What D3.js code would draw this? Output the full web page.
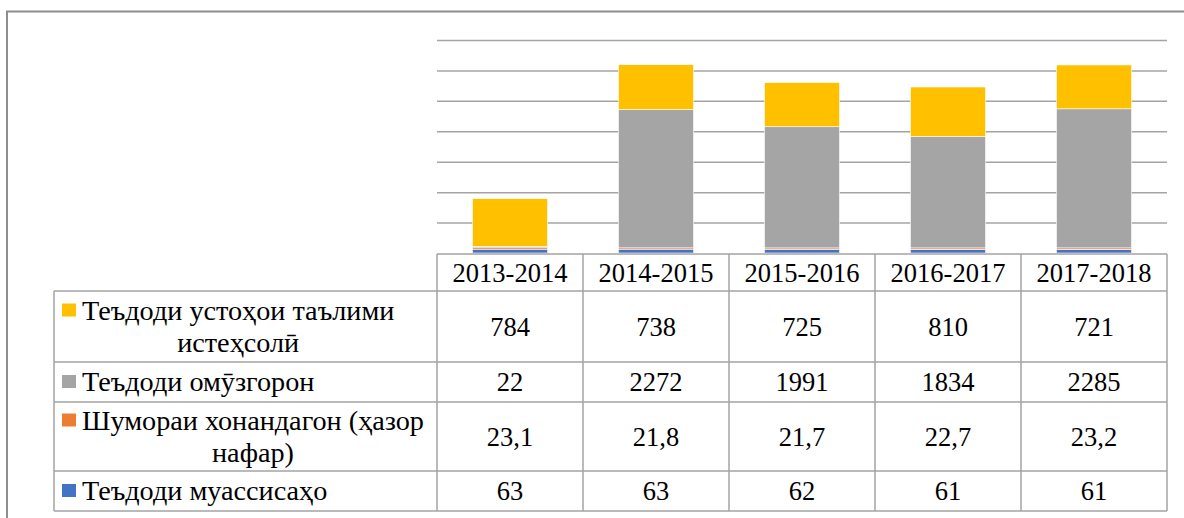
<!DOCTYPE html>
<html>
<head>
<meta charset="utf-8">
<script src="https://cdn.jsdelivr.net/npm/d3@7"></script>
<style>
  body { margin: 0; background: #fff; }
  svg { display: block; }
</style>
</head>
<body>
<svg id="chart"></svg>
<script>
// data
const years = ["2013-2014", "2014-2015", "2015-2016", "2016-2017", "2017-2018"];
const institutions = [63, 63, 62, 61, 61];          // Теъдоди муассисаҳо
const students = [23.1, 21.8, 21.7, 22.7, 23.2];    // Шумораи хонандагон (ҳазор нафар)
const teachers = [22, 2272, 1991, 1834, 2285];       // Теъдоди омӯзгорон
const masters = [784, 738, 725, 810, 721];           // Теъдоди устоҳои таълими истеҳсолӣ
const yTicks = [0, 500, 1000, 1500, 2000, 2500, 3000, 3500];

// bottom -> top of the stack
const series = [
  {key: "institutions", values: institutions, color: "#4472C4", label: ["Теъдоди муассисаҳо"]},
  {key: "students", values: students, color: "#ED7D31", label: ["Шумораи хонандагон (ҳазор", "нафар)"]},
  {key: "teachers", values: teachers, color: "#A5A5A5", label: ["Теъдоди омӯзгорон"]},
  {key: "masters", values: masters, color: "#FFC000", label: ["Теъдоди устоҳои таълими", "истеҳсолӣ"]}
];

const width = 1184, height = 518;
const plotLeft = 437, plotRight = 1167, plotTop = 40, plotBottom = 253;
const tableLeft = 54;
const fontSize = 26.5;
const labelSx = 1.065; // legend labels run a bit wider than the numbers

const svg = d3.select("#chart")
    .attr("width", width)
    .attr("height", height);

// chart frame (runs off the right and bottom edges)
svg.append("rect")
    .attr("x", 7).attr("y", 11.5)
    .attr("width", 1400).attr("height", 700)
    .attr("fill", "none")
    .attr("stroke", "#8e8e8e")
    .attr("stroke-width", 2);

const x = d3.scaleBand()
    .domain(years)
    .range([plotLeft, plotRight])
    .paddingInner(0.486)
    .paddingOuter(0.243);

const y = d3.scaleLinear()
    .domain([0, d3.max(yTicks)])
    .range([plotBottom, plotTop]);

// gridlines
const grid = svg.append("g")
    .attr("transform", `translate(${plotLeft},0)`)
    .call(d3.axisLeft(y).tickValues(yTicks.slice(1)).tickSize(-(plotRight - plotLeft)).tickFormat(""));
grid.select(".domain").remove();
grid.selectAll("line").attr("stroke", "#a4a4a4").attr("stroke-width", 1.5);

// stacked bars
const rows = years.map((yr, i) => {
  const o = {year: yr};
  series.forEach(s => o[s.key] = s.values[i]);
  return o;
});
const stacked = d3.stack().keys(series.map(s => s.key))(rows);

svg.append("g").selectAll("g")
  .data(stacked)
  .join("g")
    .attr("fill", (d, i) => series[i].color)
  .selectAll("rect")
  .data(d => d)
  .join("rect")
    .attr("x", d => x(d.data.year))
    .attr("y", d => y(d[1]))
    .attr("width", x.bandwidth())
    .attr("height", d => y(d[0]) - y(d[1]))
    .attr("stroke", "#fff")
    .attr("stroke-width", 0.6);

// data table
const step = x.step();
const colEdges = years.map((yr, i) => plotLeft + i * step).concat([plotRight]);
// table rows, top -> bottom (reverse of the stack)
const tableSeries = series.slice().reverse();
const rowEdges = [plotBottom + 1, 291, 362, 402, 471, 511];

const fmtComma = v => Number.isInteger(v) ? String(v) : d3.format(".1f")(v).replace(".", ",");

const tbl = svg.append("g")
    .attr("stroke", "#a3a3a3")
    .attr("stroke-width", 1.5);

// header top border only over the data columns
tbl.append("line")
    .attr("x1", plotLeft).attr("x2", plotRight)
    .attr("y1", rowEdges[0]).attr("y2", rowEdges[0]);
rowEdges.slice(1).forEach(ry => {
  tbl.append("line")
      .attr("x1", tableLeft).attr("x2", plotRight)
      .attr("y1", ry).attr("y2", ry);
});
colEdges.forEach(cx => {
  tbl.append("line")
      .attr("x1", cx).attr("x2", cx)
      .attr("y1", rowEdges[0]).attr("y2", rowEdges[rowEdges.length - 1]);
});
tbl.append("line")
    .attr("x1", tableLeft).attr("x2", tableLeft)
    .attr("y1", rowEdges[1]).attr("y2", rowEdges[rowEdges.length - 1]);

const txt = svg.append("g");

function addText(g, str, cx, cy, sx) {
  return g.append("text")
      .attr("transform", `translate(${cx},${cy}) scale(${sx || 1},1)`)
      .attr("text-anchor", "middle")
      .attr("dy", "0.35em")
      .style("font-family", "\"Liberation Serif\"")
      .style("font-size", fontSize + "px")
      .style("fill", "#000")
      .text(str);
}

// header: years
years.forEach((yr, i) => {
  addText(txt, yr, x(yr) + x.bandwidth() / 2, (rowEdges[0] + rowEdges[1]) / 2);
});

// rows
const lineGap = 32;
tableSeries.forEach((s, r) => {
  const top = rowEdges[r + 1], bottom = rowEdges[r + 2];
  const mid = (top + bottom) / 2;
  // values
  s.values.forEach((v, i) => {
    addText(txt, fmtComma(v), x(years[i]) + x.bandwidth() / 2, mid);
  });
  // legend key + label, lines centred on the widest one
  const n = s.label.length;
  const firstY = mid - (n - 1) * lineGap / 2;
  const textLeft = 82;
  const lines = s.label.map((ln, k) => addText(txt, ln, 0, firstY + k * lineGap, labelSx));
  const blockW = d3.max(lines, t => t.node().getComputedTextLength() * labelSx);
  lines.forEach((t, k) => {
    t.attr("transform", `translate(${textLeft + blockW / 2},${firstY + k * lineGap}) scale(${labelSx},1)`);
  });
  svg.append("rect")
      .attr("x", 62).attr("y", firstY - 7)
      .attr("width", 14).attr("height", 13)
      .attr("fill", s.color);
});
</script>
</body>
</html>
